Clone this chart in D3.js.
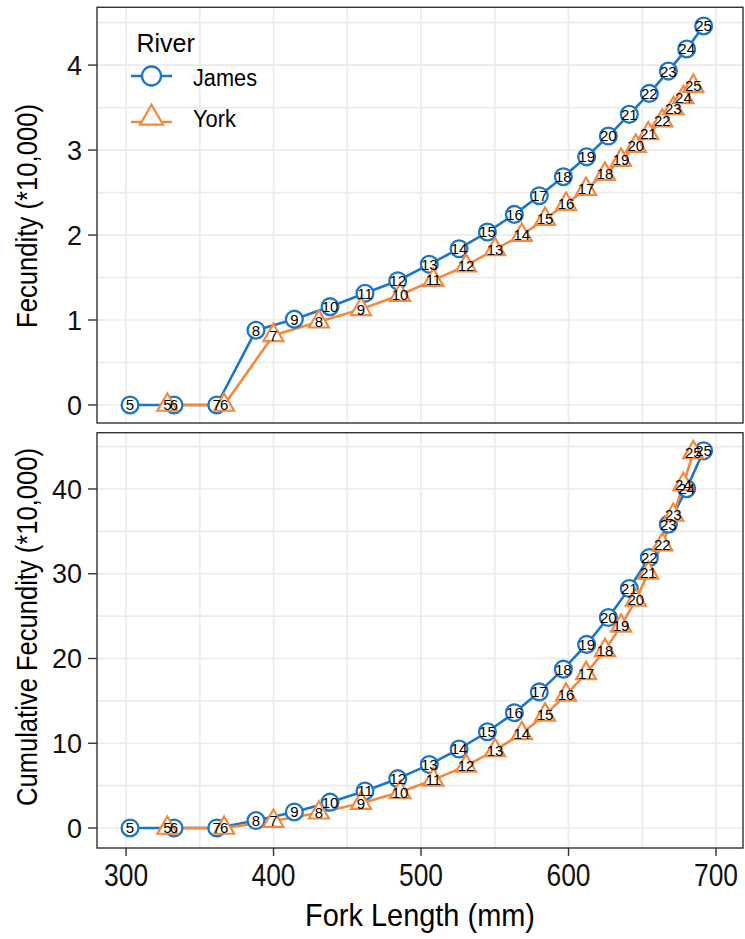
<!DOCTYPE html>
<html>
<head>
<meta charset="utf-8">
<script src="https://cdn.jsdelivr.net/npm/d3@7"></script>
<style>
  html, body { margin: 0; padding: 0; background: #fff; }
  svg { display: block; }
  text { font-family: "Liberation Sans", Arial, Helvetica, sans-serif; }
</style>
</head>
<body>
<svg id="chart" width="745" height="939"></svg>
<script>
// Age of each fish (labels drawn on every point)
const ages = [5, 6, 7, 8, 9, 10, 11, 12, 13, 14, 15, 16, 17, 18, 19, 20, 21, 22, 23, 24, 25];

// James River: fork length (mm), fecundity and cumulative fecundity (*10,000)
const jamesLength = [302.7, 332.5, 361.5, 388.1, 414.1, 438.3, 462.0, 484.2, 505.6, 525.8, 545.0,
                     563.3, 580.2, 596.5, 612.3, 627.0, 641.2, 654.8, 667.7, 680.1, 691.6];
const jamesFecundity = [0, 0, 0, 0.88, 1.01, 1.157, 1.314, 1.462, 1.655, 1.839, 2.035,
                        2.243, 2.463, 2.686, 2.92, 3.165, 3.42, 3.667, 3.929, 4.19, 4.46];
const jamesCumulative = [0, 0, 0, 0.88, 1.89, 3.05, 4.36, 5.82, 7.48, 9.32, 11.35,
                         13.6, 16.06, 18.74, 21.66, 24.83, 28.25, 31.92, 35.85, 40.04, 44.5];

// York River
const yorkLength = [328.0, 366.5, 399.9, 430.8, 459.3, 485.8, 508.4, 530.5, 550.2, 568.3, 584.1,
                    598.3, 611.9, 624.7, 635.6, 645.6, 654.1, 663.6, 671.1, 677.9, 684.6];
const yorkFecundity = [0, 0, 0.82, 0.98, 1.126, 1.294, 1.47, 1.639, 1.831, 2.0, 2.188,
                       2.365, 2.541, 2.718, 2.882, 3.047, 3.196, 3.345, 3.49, 3.62, 3.753];
const yorkCumulative = [0, 0, 0.82, 1.8, 2.93, 4.22, 5.69, 7.33, 9.16, 11.16, 13.35,
                        15.71, 18.25, 20.97, 23.85, 26.9, 30.1, 33.44, 36.93, 40.55, 44.31];

const rivers = ["James", "York"];
const xTicks = [300, 400, 500, 600, 700];
const xMinorTicks = [350, 450, 550, 650];
const fecundityTicks = [0, 1, 2, 3, 4];
const fecundityMinor = [0.5, 1.5, 2.5, 3.5, 4.5];
const cumulativeTicks = [0, 10, 20, 30, 40];
const cumulativeMinor = [5, 15, 25, 35, 45];

const colors = { James: "#1B75C8", York: "#F4893D" };
const gridColor = "#EBEBEB";
const borderColor = "#333333";

const svg = d3.select("#chart");

const x = d3.scaleLinear().domain([280.3, 718.3]).range([97, 743]);

const panels = [
  {
    title: "Fecundity (*10,000)", titleY: 216, titleLen: 224,
    y: d3.scaleLinear().domain([-0.212, 4.68]).range([423, 7.3]),
    ticks: fecundityTicks, minor: fecundityMinor,
    series: { James: jamesFecundity, York: yorkFecundity },
    legend: true, xAxis: false
  },
  {
    title: "Cumulative Fecundity (*10,000)", titleY: 627, titleLen: 358,
    y: d3.scaleLinear().domain([-2.36, 46.64]).range([848, 432.7]),
    ticks: cumulativeTicks, minor: cumulativeMinor,
    series: { James: jamesCumulative, York: yorkCumulative },
    legend: false, xAxis: true
  }
];

const lengths = { James: jamesLength, York: yorkLength };

// Triangle with its centroid at the origin
function trianglePath(s) {
  const h = 17.3 * s, w = 10 * s;
  return `M0,${-h * 2 / 3}L${w},${h / 3}L${-w},${h / 3}Z`;
}

function rowsFor(river, values) {
  return ages.map((a, i) => ({ age: a, len: lengths[river][i], val: values[i] }));
}

panels.forEach(p => {
  const g = svg.append("g");
  const [x0, x1] = x.range();
  const [yb, yt] = p.y.range();

  // grid
  const grid = g.append("g");
  grid.selectAll("line.vgrid").data(xMinorTicks.concat(xTicks)).join("line")
    .attr("x1", d => x(d)).attr("x2", d => x(d))
    .attr("y1", yt).attr("y2", yb)
    .attr("stroke", gridColor).attr("stroke-width", 1.7);
  grid.selectAll("line.hgrid").data(p.minor.concat(p.ticks)).join("line")
    .attr("x1", x0).attr("x2", x1)
    .attr("y1", d => p.y(d)).attr("y2", d => p.y(d))
    .attr("stroke", gridColor).attr("stroke-width", 1.7);

  // lines
  const line = d3.line().x(d => x(d.len)).y(d => p.y(d.val));
  rivers.forEach(r => {
    g.append("path")
      .datum(rowsFor(r, p.series[r]))
      .attr("d", line)
      .attr("fill", "none")
      .attr("stroke", colors[r])
      .attr("stroke-width", 2.6)
      .attr("stroke-linejoin", "round");
  });

  // points: James circles, York triangles
  g.append("g").selectAll("circle").data(rowsFor("James", p.series.James)).join("circle")
    .attr("cx", d => x(d.len)).attr("cy", d => p.y(d.val))
    .attr("r", 8.4)
    .attr("fill", "#fff").attr("stroke", colors.James).attr("stroke-width", 2.3);
  g.append("g").selectAll("path").data(rowsFor("York", p.series.York)).join("path")
    .attr("transform", d => `translate(${x(d.len)},${p.y(d.val)})`)
    .attr("d", trianglePath(1))
    .attr("fill", "#fff").attr("stroke", colors.York).attr("stroke-width", 2.2)
    .attr("stroke-linejoin", "miter");

  // age labels
  rivers.forEach(r => {
    g.append("g").selectAll("text").data(rowsFor(r, p.series[r])).join("text")
      .attr("x", d => x(d.len)).attr("y", d => p.y(d.val))
      .attr("dy", "0.36em")
      .attr("text-anchor", "middle")
      .attr("font-size", 15)
      .attr("fill", "#000")
      .text(d => d.age);
  });

  // panel border
  g.append("rect")
    .attr("x", x0).attr("y", yt)
    .attr("width", x1 - x0).attr("height", yb - yt)
    .attr("fill", "none").attr("stroke", borderColor).attr("stroke-width", 1.4);

  // y axis ticks and labels
  const ya = g.append("g");
  ya.selectAll("line").data(p.ticks).join("line")
    .attr("x1", x0 - 9).attr("x2", x0)
    .attr("y1", d => p.y(d)).attr("y2", d => p.y(d))
    .attr("stroke", borderColor).attr("stroke-width", 1.4);
  ya.selectAll("text").data(p.ticks).join("text")
    .attr("x", x0 - 15).attr("y", d => p.y(d))
    .attr("dy", "0.36em")
    .attr("text-anchor", "end")
    .attr("font-size", 27)
    .attr("fill", "#111")
    .text(d => d);

  // y title
  g.append("text")
    .attr("transform", `translate(37,${p.titleY}) rotate(-90)`)
    .attr("text-anchor", "middle")
    .attr("font-size", 30)
    .attr("textLength", p.titleLen)
    .attr("lengthAdjust", "spacingAndGlyphs")
    .attr("fill", "#000")
    .text(p.title);

  if (p.xAxis) {
    const xa = g.append("g");
    xa.selectAll("line").data(xTicks).join("line")
      .attr("x1", d => x(d)).attr("x2", d => x(d))
      .attr("y1", yb).attr("y2", yb + 8)
      .attr("stroke", borderColor).attr("stroke-width", 1.4);
    xa.selectAll("text").data(xTicks).join("text")
      .attr("x", d => x(d)).attr("y", 886)
      .attr("text-anchor", "middle")
      .attr("font-size", 32)
      .attr("textLength", 44)
      .attr("lengthAdjust", "spacingAndGlyphs")
      .attr("fill", "#111")
      .text(d => d);
    g.append("text")
      .attr("x", (x0 + x1) / 2).attr("y", 926)
      .attr("text-anchor", "middle")
      .attr("font-size", 32)
      .attr("textLength", 230)
      .attr("lengthAdjust", "spacingAndGlyphs")
      .attr("fill", "#000")
      .text("Fork Length (mm)");
  }

  if (p.legend) {
    const lg = g.append("g");
    lg.append("text")
      .attr("x", 136.5).attr("y", 52)
      .attr("font-size", 25)
      .attr("fill", "#000")
      .text("River");
    const keyY = { James: 76, York: 122 };
    rivers.forEach(r => {
      const ky = keyY[r];
      lg.append("line")
        .attr("x1", 131).attr("x2", 172)
        .attr("y1", ky).attr("y2", ky)
        .attr("stroke", colors[r]).attr("stroke-width", 2.6);
      if (r === "James") {
        lg.append("circle")
          .attr("cx", 151.5).attr("cy", ky).attr("r", 9.5)
          .attr("fill", "#fff").attr("stroke", colors[r]).attr("stroke-width", 2.3);
      } else {
        lg.append("path")
          .attr("transform", `translate(151.5,${ky - 4})`)
          .attr("d", trianglePath(1.15))
          .attr("fill", "#fff").attr("stroke", colors[r]).attr("stroke-width", 2.2);
      }
      lg.append("text")
        .attr("x", 193).attr("y", r === "James" ? 85.5 : 127)
        .attr("font-size", 23)
        .attr("textLength", r === "James" ? 64 : 43)
        .attr("lengthAdjust", "spacingAndGlyphs")
        .attr("fill", "#000")
        .text(r);
    });
  }
});
</script>
</body>
</html>
